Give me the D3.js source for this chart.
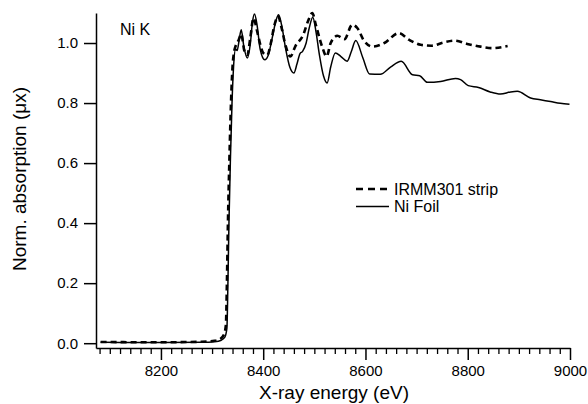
<!DOCTYPE html>
<html lang="en">
<head>
  <meta charset="utf-8">
  <title>Ni K XANES</title>
  <script src="https://cdn.jsdelivr.net/npm/d3@7"></script>
  <style>
    body { margin: 0; background: #fff; }
    svg text { font-family: 'Liberation Sans', Arial, sans-serif; fill: #000; }
    .tick-label { font-size: 15px; }
    .axis-title { font-size: 19px; }
    .legend-text { font-size: 16px; }
  </style>
</head>
<body>
  <svg id="chart" width="588" height="404"></svg>
  <script>
    // IRMM301 strip (dashed)
    const stripE = [8082, 8200, 8280, 8305, 8316, 8323, 8327, 8329, 8331, 8334, 8337, 8340, 8343, 8346,
      8352, 8357, 8363, 8369, 8375, 8381, 8388, 8395, 8400, 8408, 8415, 8422, 8429, 8436, 8444, 8453,
      8463, 8479, 8487, 8496, 8503, 8515, 8524, 8532, 8545, 8559, 8574, 8584, 8597, 8614, 8637, 8665,
      8685, 8708, 8729, 8753, 8774, 8799, 8825, 8848, 8878];
    const stripMu = [0.004, 0.003, 0.005, 0.008, 0.014, 0.028, 0.06, 0.2, 0.4, 0.62, 0.8, 0.92, 0.97, 0.99,
      1.01, 1.03, 0.975, 0.96, 1.02, 1.083, 1.04, 0.99, 0.967, 0.96, 1.0, 1.06, 1.089, 1.05, 0.99, 0.955,
      0.99, 1.03, 1.07, 1.1, 1.06, 0.989, 0.955, 1.0, 1.024, 1.013, 1.061, 1.05, 1.008, 0.988, 1.0, 1.033,
      1.011, 0.994, 0.991, 1.002, 1.008, 0.997, 0.988, 0.983, 0.99];

    // Ni foil (solid)
    const foilE = [8082, 8200, 8280, 8305, 8318, 8325, 8329, 8331, 8333, 8336, 8339, 8342, 8346, 8349,
      8353, 8357, 8362, 8369, 8375, 8379, 8383, 8388, 8394, 8403, 8410, 8418, 8425, 8430, 8436, 8444,
      8452, 8460, 8466, 8472, 8477, 8484, 8490, 8497, 8503, 8510, 8518, 8525, 8532, 8541, 8552, 8564,
      8572, 8581, 8595, 8608, 8629, 8649, 8670, 8692, 8706, 8721, 8747, 8776, 8786, 8801, 8821, 8844,
      8864, 8884, 8897, 8923, 8942, 8962, 8981, 8999];
    const foilMu = [0.003, 0.002, 0.003, 0.005, 0.01, 0.02, 0.05, 0.2, 0.4, 0.62, 0.8, 0.92, 0.98, 0.975,
      1.01, 1.044, 0.99, 0.95, 1.0, 1.07, 1.097, 1.06, 0.98, 0.944, 0.96, 1.02, 1.075, 1.094, 1.06, 0.98,
      0.92, 0.9, 0.93, 0.965, 0.972, 1.0, 1.05, 1.086, 1.04, 0.96, 0.89, 0.867, 0.92, 0.967, 0.955, 0.939,
      0.97, 1.008, 0.95, 0.897, 0.896, 0.92, 0.939, 0.894, 0.891, 0.869, 0.872, 0.882, 0.878, 0.858, 0.852, 0.837,
      0.83, 0.837, 0.839, 0.817, 0.811, 0.805, 0.799, 0.796];

    const yTicks = [0, 0.2, 0.4, 0.6, 0.8, 1.0];
    const xTicks = [8200, 8400, 8600, 8800, 9000];

    const svg = d3.select("#chart");

    const x = d3.scaleLinear().domain([8073, 9000]).range([96, 570]);
    const y = d3.scaleLinear().domain([-0.016, 1.1]).range([348, 13]);

    // 曲线
    const line = d3.line()
      .x(d => x(d[0]))
      .y(d => y(d[1]))
      .curve(d3.curveMonotoneX);

    const foil = foilE.map((e, i) => [e, foilMu[i]]);
    const strip = stripE.map((e, i) => [e, stripMu[i]]);

    svg.append("path")
      .datum(foil)
      .attr("d", line)
      .attr("fill", "none")
      .attr("stroke", "#000")
      .attr("stroke-width", 1.5);

    svg.append("path")
      .datum(strip)
      .attr("d", line)
      .attr("fill", "none")
      .attr("stroke", "#000")
      .attr("stroke-width", 2.6)
      .attr("stroke-dasharray", "6,4");

    // y 轴
    const yAxis = svg.append("g")
      .attr("transform", "translate(96,0)")
      .call(d3.axisLeft(y).tickValues(yTicks).tickFormat(d3.format(".1f"))
        .tickSize(12).tickPadding(6).tickSizeOuter(0));
    yAxis.select(".domain").attr("stroke-width", 1.5);
    yAxis.selectAll(".tick line").attr("stroke-width", 1.5);
    yAxis.selectAll(".tick text").attr("class", "tick-label").attr("font-size", null).attr("font-family", null);

    // x 轴 (次刻度每 20 eV)
    const minor = d3.range(8080, 9001, 20).filter(v => v % 200 !== 0);
    const xMinor = svg.append("g")
      .attr("transform", "translate(0,348)")
      .call(d3.axisBottom(x).tickValues(minor).tickFormat("").tickSize(6).tickSizeOuter(0));
    xMinor.select(".domain").remove();
    xMinor.selectAll(".tick line").attr("stroke-width", 1.3);

    const xAxis = svg.append("g")
      .attr("transform", "translate(0,348)")
      .call(d3.axisBottom(x).tickValues(xTicks).tickFormat(d3.format("d"))
        .tickSize(12).tickPadding(5).tickSizeOuter(0));
    xAxis.select(".domain").attr("stroke-width", 1.5);
    xAxis.selectAll(".tick line").attr("stroke-width", 1.5);
    xAxis.selectAll(".tick text").attr("class", "tick-label").attr("font-size", null).attr("font-family", null);

    // 标题
    svg.append("text")
      .attr("class", "axis-title")
      .attr("x", 334).attr("y", 399)
      .attr("text-anchor", "middle")
      .text("X-ray energy (eV)");

    svg.append("text")
      .attr("class", "axis-title")
      .attr("transform", "translate(26,179) rotate(-90)")
      .attr("text-anchor", "middle")
      .text("Norm. absorption (μx)");

    svg.append("text")
      .attr("x", 120).attr("y", 35)
      .attr("font-size", 16)
      .text("Ni K");

    // 图例
    const legend = [
      { label: "IRMM301 strip", dash: "7,5", width: 2.6, y: 189 },
      { label: "Ni Foil", dash: null, width: 1.5, y: 206.5 }
    ];
    const lg = svg.append("g").selectAll("g").data(legend).enter().append("g");
    lg.append("line")
      .attr("x1", 356).attr("x2", 389)
      .attr("y1", d => d.y).attr("y2", d => d.y)
      .attr("stroke", "#000")
      .attr("stroke-width", d => d.width)
      .attr("stroke-dasharray", d => d.dash);
    lg.append("text")
      .attr("class", "legend-text")
      .attr("x", 394).attr("y", d => d.y)
      .attr("dy", "0.36em")
      .text(d => d.label);
  </script>
</body>
</html>
